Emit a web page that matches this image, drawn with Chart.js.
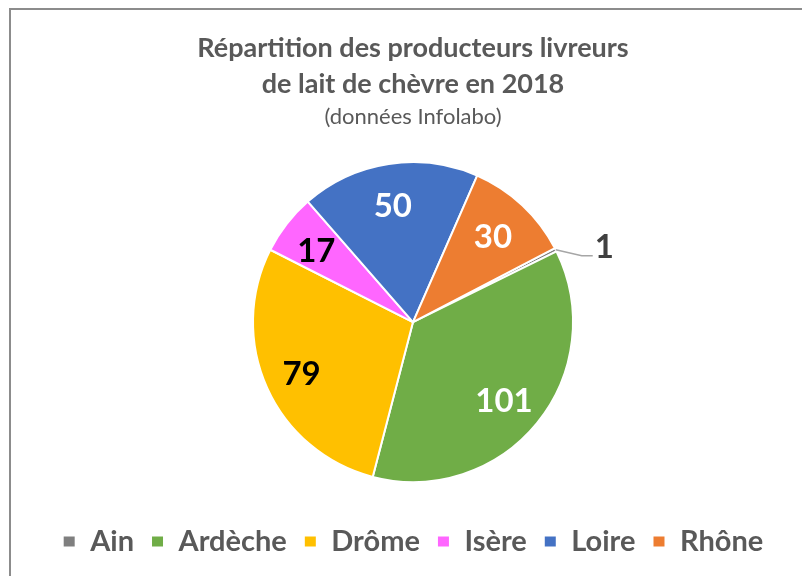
<!DOCTYPE html>
<html>
<head>
<meta charset="utf-8">
<script src="https://cdn.jsdelivr.net/npm/chart.js@4/dist/chart.umd.min.js"></script>
<style>
  body { margin: 0; background: #fff; }
  #wrap { position: relative; width: 802px; height: 576px; overflow: hidden; }
  #frame { position: absolute; left: 9px; top: 8px; width: 900px; height: 700px;
           border-left: 2px solid #8c8c8c; border-top: 2px solid #8c8c8c; }
  canvas { position: absolute; left: 0; top: 0; }
</style>
</head>
<body>
<div id="wrap">
  <div id="frame"></div>
  <canvas id="myChart" width="802" height="576"></canvas>
</div>
<script>
const departements = ['Ain', 'Ardèche', 'Drôme', 'Isère', 'Loire', 'Rhône'];
const producteurs = [1, 101, 79, 17, 50, 30];
const couleurs = ['#7f7f7f', '#70ad47', '#ffc000', '#ff66ff', '#4472c4', '#ed7d31'];
const couleursEtiquettes = ['#404040', '#ffffff', '#000000', '#000000', '#ffffff', '#ffffff'];

const police = 'Lato, "Open Sans", sans-serif';

// etiquettes de valeurs dessinees a la main (pas de plugin datalabels)
const etiquettes = {
    id: 'etiquettes',
    afterDatasetsDraw(chart) {
        const ctx = chart.ctx;
        const arcs = chart.getDatasetMeta(0).data;
        ctx.save();
        ctx.font = 'bold 33px ' + police;
        ctx.textBaseline = 'middle';
        arcs.forEach(function (arc, i) {
            const p = arc.getProps(['x', 'y', 'startAngle', 'endAngle', 'outerRadius']);
            const mid = (p.startAngle + p.endAngle) / 2;
            const valeur = String(producteurs[i]);
            ctx.fillStyle = couleursEtiquettes[i];
            if (producteurs[i] < 5) {
                // petite part : etiquette a l'exterieur avec trait de rappel
                const x0 = p.x + Math.cos(mid) * p.outerRadius;
                const y0 = p.y + Math.sin(mid) * p.outerRadius;
                ctx.strokeStyle = '#a6a6a6';
                ctx.lineWidth = 1.5;
                ctx.beginPath();
                ctx.moveTo(x0, y0);
                ctx.lineTo(x0 + 26, y0 + 6);
                ctx.lineTo(x0 + 37, y0 + 6);
                ctx.stroke();
                ctx.textAlign = 'left';
                ctx.fillText(valeur, x0 + 39, y0 - 2);
            } else {
                ctx.textAlign = 'center';
                const r = p.outerRadius * 0.75;
                ctx.fillText(valeur, p.x + Math.cos(mid) * r - 2, p.y + Math.sin(mid) * r + 3);
            }
        });
        ctx.restore();
    }
};

const ctx = document.getElementById('myChart').getContext('2d');
const myChart = new Chart(ctx, {
    type: 'pie',
    data: {
        labels: departements,
        datasets: [{
            data: producteurs,
            backgroundColor: couleurs,
            borderColor: '#ffffff',
            borderWidth: 2,
            radius: 160
        }]
    },
    options: {
        responsive: false,
        animation: false,
        rotation: 62.5,
        layout: { padding: { left: 24, right: 0, top: 0, bottom: 10 } },
        plugins: {
            tooltip: { enabled: false },
            title: {
                display: true,
                text: ['Répartition des producteurs livreurs', 'de lait de chèvre en 2018'],
                color: '#595959',
                font: { family: police, size: 27, weight: 'bold', lineHeight: 1.33 },
                padding: { top: 30, bottom: 2 }
            },
            subtitle: {
                display: true,
                text: '(données Infolabo)',
                color: '#595959',
                font: { family: police, size: 22, weight: 'normal' },
                padding: { top: 0, bottom: 4 }
            },
            legend: {
                position: 'bottom',
                labels: {
                    color: '#595959',
                    font: { family: police, size: 29, weight: 'bold' },
                    boxWidth: 13,
                    boxHeight: 12,
                    padding: 17
                }
            }
        }
    },
    plugins: [etiquettes]
});
</script>
</body>
</html>
